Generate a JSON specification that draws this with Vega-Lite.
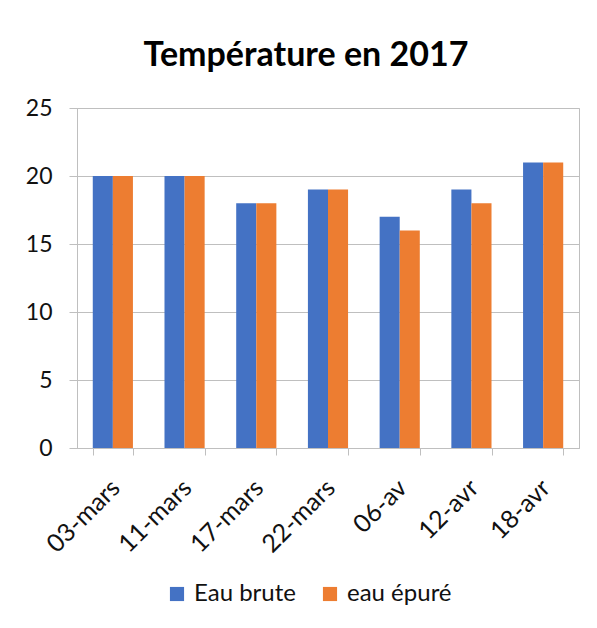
{
  "$schema": "https://vega.github.io/schema/vega-lite/v6.json",
  "autosize": {"type": "none"},
  "padding": {"left": 77, "top": 108, "right": 18, "bottom": 180},
  "width": 502,
  "height": 340,
  "background": "white",
  "title": {
    "text": "Température en 2017",
    "font": "Lato",
    "fontSize": 34,
    "fontWeight": "bold",
    "color": "#000000",
    "anchor": "middle",
    "frame": "group",
    "dx": -22,
    "offset": 24
  },
  "data": {
    "values": [
      {"date": "03-mars", "serie": "Eau brute", "temp": 20},
      {"date": "03-mars", "serie": "eau épuré", "temp": 20},
      {"date": "11-mars", "serie": "Eau brute", "temp": 20},
      {"date": "11-mars", "serie": "eau épuré", "temp": 20},
      {"date": "17-mars", "serie": "Eau brute", "temp": 18},
      {"date": "17-mars", "serie": "eau épuré", "temp": 18},
      {"date": "22-mars", "serie": "Eau brute", "temp": 19},
      {"date": "22-mars", "serie": "eau épuré", "temp": 19},
      {"date": "06-av", "serie": "Eau brute", "temp": 17},
      {"date": "06-av", "serie": "eau épuré", "temp": 16},
      {"date": "12-avr", "serie": "Eau brute", "temp": 19},
      {"date": "12-avr", "serie": "eau épuré", "temp": 18},
      {"date": "18-avr", "serie": "Eau brute", "temp": 21},
      {"date": "18-avr", "serie": "eau épuré", "temp": 21}
    ]
  },
  "mark": {"type": "bar"},
  "encoding": {
    "x": {
      "field": "date",
      "type": "nominal",
      "sort": null,
      "title": null,
      "scale": {"paddingInner": 0.44, "paddingOuter": 0.22},
      "axis": {
        "labelAngle": -45,
        "labelFont": "Lato",
        "labelFontSize": 25,
        "labelColor": "#111111",
        "labelPadding": 20,
        "labelOffset": -6,
        "tickBand": "extent",
        "tickSize": 7,
        "tickColor": "#bfbfbf",
        "domainColor": "#bfbfbf",
        "grid": false
      }
    },
    "xOffset": {"field": "serie", "type": "nominal"},
    "y": {
      "field": "temp",
      "type": "quantitative",
      "title": null,
      "scale": {"domain": [0, 25], "nice": false},
      "axis": {
        "values": [0, 5, 10, 15, 20, 25],
        "labelFont": "Lato",
        "labelFontSize": 23,
        "labelColor": "#111111",
        "labelPadding": 17,
        "tickSize": 8,
        "tickColor": "#bfbfbf",
        "domainColor": "#bfbfbf",
        "gridColor": "#bfbfbf",
        "gridWidth": 1
      }
    },
    "color": {
      "field": "serie",
      "type": "nominal",
      "title": null,
      "scale": {"domain": ["Eau brute", "eau épuré"], "range": ["#4472C4", "#ED7D31"]},
      "legend": {
        "orient": "none",
        "legendX": 88,
        "legendY": 474,
        "direction": "horizontal",
        "symbolType": "square",
        "symbolSize": 200,
        "symbolStrokeWidth": 0,
        "labelFont": "Lato",
        "labelFontSize": 24,
        "labelColor": "#111111",
        "labelOffset": 5,
        "columnPadding": 22
      }
    }
  },
  "config": {
    "view": {"stroke": "#bfbfbf", "strokeWidth": 1}
  }
}
